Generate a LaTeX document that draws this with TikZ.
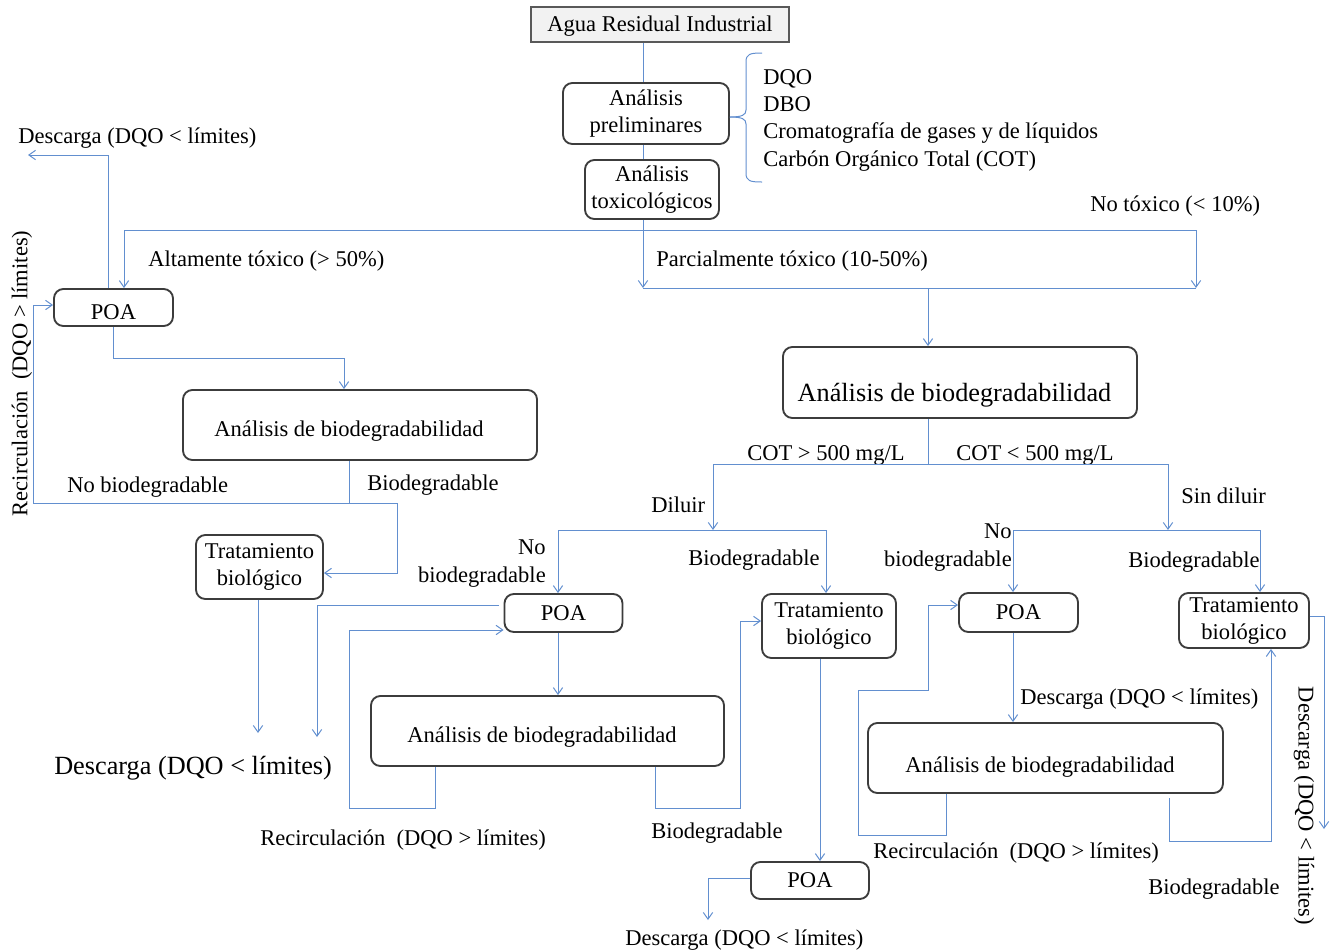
\documentclass[tikz,border=0pt]{standalone}
\usepackage{fontspec}
\setmainfont{Liberation Serif}
\usetikzlibrary{arrows.meta}
\definecolor{lineblue}{RGB}{98,143,207}
\definecolor{boxgray}{RGB}{60,60,60}
\definecolor{aguaedge}{RGB}{89,89,89}
\definecolor{aguafill}{RGB}{242,242,242}
\newcommand\fmain{\fontsize{16.9}{20.3}\selectfont}
\newcommand\fbig{\fontsize{19.7}{23.6}\selectfont}
\tikzset{
  box/.style={draw=boxgray, line width=1.4pt, rounded corners=7pt, align=center, font=\fmain, inner sep=0pt},
  onel/.style={text height=11.2pt, text depth=0pt},
  lab/.style={font=\fmain, inner sep=0pt, text height=11.2pt, text depth=0pt},
  labbig/.style={font=\fbig, inner sep=0pt, text height=13pt, text depth=0pt},
  conn/.style={draw=lineblue, line width=0.75pt},
  arr/.style={conn, -{Straight Barb[length=5pt,width=7pt]}},
}
\begin{document}
\begin{tikzpicture}[x=0.75pt,y=-0.75pt]
\useasboundingbox (0,0) rectangle (1336,951);

% ---------- boxes ----------
\node[box, rounded corners=0pt, fill=aguafill, draw=aguaedge, onel, minimum width=193.5pt, minimum height=26.25pt] (agua) at (660,24.5) {Agua Residual Industrial};
\node[box, minimum width=124.5pt, minimum height=45.75pt] (prelim) at (646,113.5) {Análisis\\preliminares};
\node[box, minimum width=100.5pt, minimum height=44.25pt] (toxic) at (652,189.5) {Análisis\\toxicológicos};

\node[box, text height=18.7pt, text depth=0pt, minimum width=89.25pt, minimum height=27.75pt] (poaL) at (113.5,307.5) {POA};
\node[box, minimum width=265.5pt, minimum height=52.5pt] (anaL) at (360,425) {};
\node[lab] (anaLt) at (349,429.5) {Análisis de biodegradabilidad};
\node[box, minimum width=95.25pt, minimum height=48pt] (tratL) at (259.5,567) {Tratamiento\\biológico};

\node[box, minimum width=265.5pt, minimum height=53.25pt] (anaM) at (960,382.5) {};
\node[labbig] (anaMt) at (954.5,392.5) {Análisis de biodegradabilidad};

\node[box, onel, minimum width=88.5pt, minimum height=28.5pt] (poaM) at (563.5,613) {POA};
\node[box, minimum width=100.5pt, minimum height=48pt] (tratM) at (829,626) {Tratamiento\\biológico};
\node[box, minimum width=264.75pt, minimum height=52.5pt] (anaMB) at (547.5,731) {};
\node[lab] (anaMBt) at (542,735) {Análisis de biodegradabilidad};
\node[box, onel, minimum width=88.5pt, minimum height=27.75pt] (poaB) at (810,880.5) {POA};

\node[box, onel, minimum width=89.25pt, minimum height=29.25pt] (poaR) at (1018.5,612.5) {POA};
\node[box, minimum width=97.5pt, minimum height=41.25pt] (tratR) at (1244,620.5) {Tratamiento\\biológico};
\node[box, minimum width=266.25pt, minimum height=52.5pt] (anaR) at (1045.5,758) {};
\node[lab] (anaRt) at (1040,765) {Análisis de biodegradabilidad};

% ---------- list ----------
\node[lab, anchor=west] (l1) at (763,77.5) {DQO};
\node[lab, anchor=west] (l2) at (763,104.5) {DBO};
\node[lab, anchor=west] (l3) at (763,131) {Cromatografía de gases y de líquidos};
\node[lab, anchor=west] (l4) at (763,159.5) {Carbón Orgánico Total (COT)};

% ---------- labels ----------
\node[lab, anchor=west] (t1) at (18,136.5) {Descarga (DQO < límites)};
\node[lab, anchor=west] (t2) at (148,259.5) {Altamente tóxico (> 50\%)};
\node[lab, anchor=west] (t3) at (656,259.5) {Parcialmente tóxico (10-50\%)};
\node[lab, anchor=west] (t4) at (1090,204.5) {No tóxico (< 10\%)};
\node[lab, rotate=90] (t5) at (20,373.5) {Recirculación~ (DQO > límites)};
\node[lab, anchor=west] (t6) at (67,485) {No biodegradable};
\node[lab, anchor=west] (t7) at (367,483) {Biodegradable};
\node[labbig, anchor=west] (t8) at (54,766) {Descarga (DQO < límites)};
\node[lab, anchor=west] (t9) at (260,838) {Recirculación~ (DQO > límites)};
\node[lab, anchor=west] (t10) at (747,453.5) {COT > 500 mg/L};
\node[lab, anchor=west] (t11) at (956,453.5) {COT < 500 mg/L};
\node[lab, anchor=west] (t12) at (651,505) {Diluir};
\node[lab, anchor=west] (t13) at (1181,496) {Sin diluir};
\node[lab, anchor=east] (t14) at (546,547.5) {No};
\node[lab, anchor=east] (t15) at (546,575.5) {biodegradable};
\node[lab, anchor=west] (t16) at (688,558) {Biodegradable};
\node[lab, anchor=east] (t17) at (1012,531) {No};
\node[lab, anchor=east] (t18) at (1012,559.5) {biodegradable};
\node[lab, anchor=west] (t19) at (1128,560.5) {Biodegradable};
\node[lab, anchor=west] (t20) at (1020,697.5) {Descarga (DQO < límites)};
\node[lab, anchor=west] (t21) at (651,831.5) {Biodegradable};
\node[lab, anchor=west] (t22) at (625,938.5) {Descarga (DQO < límites)};
\node[lab, anchor=west] (t23) at (873,851) {Recirculación~ (DQO > límites)};
\node[lab, anchor=west] (t24) at (1148,887) {Biodegradable};
\node[lab, rotate=-90] (t25) at (1306,806) {Descarga (DQO < límites)};

% ---------- coordinates ----------
\coordinate (jA) at (643,288);
\coordinate (jL) at (124,230);
\coordinate (jR) at (1196,230);
\coordinate (jR2) at (1196,288);
\coordinate (jM) at (928,288);
\coordinate (dL) at (28,155);
\coordinate (kL) at (344,358);
\coordinate (bL) at (349,503);
\coordinate (rL) at (397,503);
\coordinate (rLb) at (33,503);
\coordinate (eL1) at (258,733);
\coordinate (sL) at (499,605);
\coordinate (eL2) at (317,737);
\coordinate (cM) at (928,464);
\coordinate (cML) at (713,464);
\coordinate (cMR) at (1168,464);
\coordinate (dM) at (713,530);
\coordinate (dML) at (558,530);
\coordinate (dMR) at (826,530);
\coordinate (dR) at (1168,530);
\coordinate (dRL) at (1013,530);
\coordinate (dRR) at (1260,530);
\coordinate (rM) at (349,808);
\coordinate (bM) at (740,808);
\coordinate (eB) at (708,920);
\coordinate (rR1) at (858,835);
\coordinate (rR2) at (928,690);
\coordinate (sR) at (1169,798);
\coordinate (bR) at (1271,841);
\coordinate (eR) at (1324,829);

% ---------- connectors ----------
\draw[conn] (agua.south -| 643,0) -- (prelim.north -| 643,0);
\draw[conn] (prelim.south -| 643,0) -- (toxic.north -| 643,0);
\draw[conn] (prelim.east |- 0,117) .. controls (742,117) and (746,115) .. (746,110)
   -- (746,62) .. controls (746,54) and (750,53) .. (762,53);
\draw[conn] (prelim.east |- 0,117) .. controls (742,117) and (746,119) .. (746,124)
   -- (746,173) .. controls (746,181) and (750,182) .. (762,182);

\draw[arr] (toxic.south -| jA) -- (jA);
\draw[conn] (jL) -- (jR);
\draw[arr] (jL) -- (poaL.north -| jL);
\draw[arr] (jR) -- (jR2);
\draw[conn] (jA) -- (jR2);
\draw[arr] (jM) -- (anaM.north -| jM);

% left branch
\draw[arr] (poaL.north -| 108,0) |- (dL);
\draw[arr] (poaL.south -| 113,0) |- (kL) -- (anaL.north -| kL);
\draw[conn] (anaL.south -| bL) -- (bL);
\draw[arr] (rL) -- (rLb) |- (poaL.west |- 0,305);
\draw[arr] (rL) |- (tratL.east |- 0,573);
\draw[arr] (tratL.south -| eL1) -- (eL1);
\draw[arr] (sL) -| (eL2);

% middle branch
\draw[conn] (anaM.south -| cM) -- (cM);
\draw[conn] (cML) -- (cMR);
\draw[arr] (cML) -- (dM);
\draw[conn] (dML) -- (dMR);
\draw[arr] (dML) -- (poaM.north -| dML);
\draw[arr] (dMR) -- (tratM.north -| dMR);
\draw[arr] (cMR) -- (dR);
\draw[conn] (dRL) -- (dRR);
\draw[arr] (dRL) -- (poaR.north -| dRL);
\draw[arr] (dRR) -- (tratR.north -| dRR);

\draw[arr] (poaM.south -| 558,0) -- (anaMB.north -| 558,0);
\draw[arr] (anaMB.south -| 435,0) |- (rM) |- (poaM.west |- 0,630);
\draw[arr] (anaMB.south -| 655,0) |- (bM) |- (tratM.west |- 0,621);
\draw[arr] (tratM.south -| 820,0) -- (poaB.north -| 820,0);
\draw[arr] (poaB.west |- 0,878) -| (eB);

% right branch
\draw[arr] (poaR.south -| 1013,0) -- (anaR.north -| 1013,0);
\draw[arr] (anaR.south -| 946,0) |- (rR1) |- (rR2) |- (poaR.west |- 0,605);
\draw[arr] (sR) |- (bR) -- (tratR.south -| bR);
\draw[arr] (tratR.east |- 0,616) -| (eR);
\end{tikzpicture}
\end{document}
